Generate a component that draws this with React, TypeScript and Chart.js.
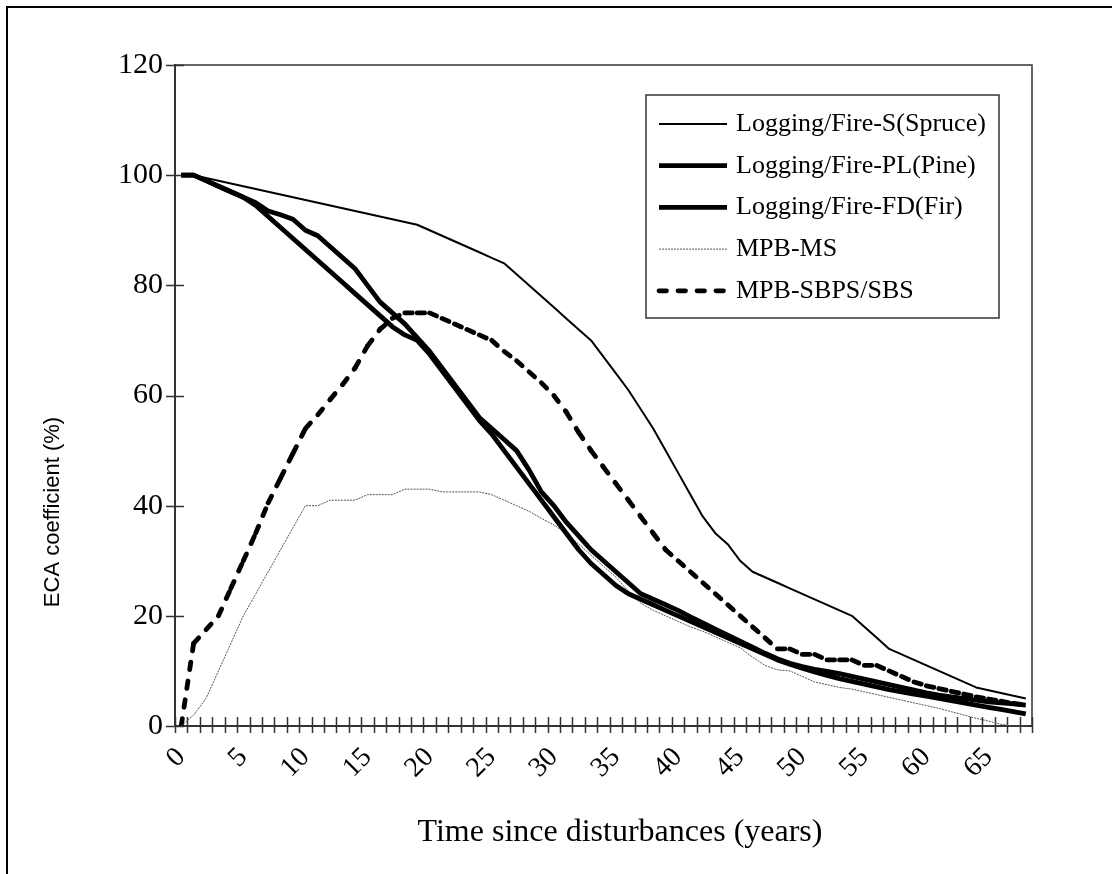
import React, { useEffect, useRef } from 'react';
import { Chart, registerables } from 'chart.js';

Chart.register(...registerables);

// ---- data ----
const years = [
  0, 1, 2, 3, 4, 5, 6, 7, 8, 9, 10, 11, 12, 13, 14, 15, 16, 17, 18, 19,
  20, 21, 22, 23, 24, 25, 26, 27, 28, 29, 30, 31, 32, 33, 34, 35, 36, 37, 38, 39,
  40, 41, 42, 43, 44, 45, 46, 47, 48, 49, 50, 51, 52, 53, 54, 55, 56, 57, 58, 59,
  60, 61, 62, 63, 64, 65, 66, 67, 68,
];
const xTickLabels = ['0', '5', '10', '15', '20', '25', '30', '35', '40', '45', '50', '55', '60', '65'];
const yMin = 0;
const yMax = 120;
const yStep = 20;

const spruce = [
  100, 100, 99.5, 99, 98.5, 98, 97.5, 97, 96.5, 96, 95.5, 95, 94.5, 94, 93.5, 93, 92.5, 92, 91.5, 91,
  90, 89, 88, 87, 86, 85, 84, 82, 80, 78, 76, 74, 72, 70, 67, 64, 61, 57.5, 54, 50,
  46, 42, 38, 35, 33, 30, 28, 27, 26, 25, 24, 23, 22, 21, 20, 18, 16, 14, 13, 12,
  11, 10, 9, 8, 7, 6.5, 6, 5.5, 5,
];
const pine = [
  100, 100, 99, 98, 97, 96, 94.5, 92.5, 90.5, 88.5, 86.5, 84.5, 82.5, 80.5, 78.5, 76.5, 74.5, 72.5, 71, 70,
  67.5, 64.5, 61.5, 58.5, 55.5, 53, 50, 47, 44, 41, 38, 35, 32, 29.5, 27.5, 25.5, 24, 23, 22, 21,
  20, 19, 18, 17, 16, 15, 14, 13, 12, 11.2, 10.5, 9.8, 9.2, 8.6, 8.1, 7.6, 7.1, 6.6, 6.2, 5.8,
  5.4, 5, 4.6, 4.2, 3.8, 3.4, 3, 2.6, 2.2,
];
const fir = [
  100, 100, 99, 98, 97, 96, 95, 93.5, 92.8, 92, 90, 89, 87, 85, 83, 80, 77, 75, 73, 70.5,
  68, 65, 62, 59, 56, 54, 52, 50, 46.5, 42.5, 40, 37, 34.5, 32, 30, 28, 26, 24, 23, 22,
  21, 19.8, 18.7, 17.6, 16.5, 15.4, 14.3, 13.2, 12.2, 11.4, 10.8, 10.3, 9.9, 9.5, 9, 8.5, 8, 7.5, 7, 6.5,
  6, 5.6, 5.3, 5, 4.7, 4.4, 4.2, 4, 3.8,
];
const mpbMS = [
  0, 2, 5, 10, 15, 20, 24, 28, 32, 36, 40, 40, 41, 41, 41, 42, 42, 42, 43, 43,
  43, 42.5, 42.5, 42.5, 42.5, 42, 41, 40, 39, 37.7, 36.5, 35, 33, 31, 29, 27, 24.5, 22.3, 21, 20,
  19, 18, 17.2, 16.2, 15.2, 14.2, 12.5, 11, 10.2, 10, 9, 8, 7.5, 7, 6.7, 6.2, 5.7, 5.2, 4.7, 4.2,
  3.7, 3.2, 2.6, 2, 1.4, 0.9, 0.3, 0, 0,
];
const mpbSBPS = [
  0, 15, 17.5, 20, 25, 30, 35, 40.5, 45, 49.5, 54, 56.5, 59.3, 62, 65, 69, 72, 74, 75, 75,
  75, 74, 73, 72, 71, 70, 68, 66.3, 64.3, 62.3, 60, 57, 53.3, 50, 47, 44, 41, 38, 35, 32,
  30, 28, 26, 24, 22, 20, 18, 16, 14, 14, 13, 13, 12, 12, 12, 11, 11, 10, 9, 8,
  7.3, 6.8, 6.3, 5.8, 5.3, 4.9, 4.5, 4.1, 3.8,
];

const seriesNames = [
  'Logging/Fire-S(Spruce)',
  'Logging/Fire-PL(Pine)',
  'Logging/Fire-FD(Fir)',
  'MPB-MS',
  'MPB-SBPS/SBS',
];
const xTitle = 'Time since disturbances (years)';
const yTitle = 'ECA coefficient (%)';

const SERIF = "'Liberation Serif', 'Times New Roman', serif";
const SANS = "'Liberation Sans', Arial, sans-serif";
const AXIS_COLOR = '#333';

const frameAndTicksPlugin = {
  id: 'frameAndTicks',
  beforeDatasetsDraw(chart: any) {
    const { ctx, chartArea: a, scales } = chart;
    const x = scales.x;
    const y = scales.y;
    ctx.save();
    ctx.strokeStyle = AXIS_COLOR;
    ctx.lineWidth = 1.5;
    ctx.beginPath();
    ctx.moveTo(a.left, a.top);
    ctx.lineTo(a.right, a.top);
    ctx.lineTo(a.right, a.bottom);
    ctx.stroke();
    ctx.beginPath();
    const n = x.getLabels().length;
    const w = (x.right - x.left) / n;
    for (let i = 0; i <= n; i++) {
      const px = Math.round(x.left + i * w) + 0.5;
      ctx.moveTo(px, a.bottom - 9);
      ctx.lineTo(px, a.bottom + 7);
    }
    y.ticks.forEach((t: any) => {
      const py = Math.round(y.getPixelForValue(t.value)) + 0.5;
      ctx.moveTo(a.left - 9, py);
      ctx.lineTo(a.left + 9, py);
    });
    ctx.stroke();
    ctx.restore();
  },
};

const legendAndTitlesPlugin = {
  id: 'legendAndTitles',
  afterDraw(chart: any) {
    const { ctx } = chart;
    ctx.save();
    // legend box
    const bx = 646, by = 95, bw = 353, bh = 223;
    ctx.fillStyle = '#fff';
    ctx.fillRect(bx, by, bw, bh);
    ctx.strokeStyle = AXIS_COLOR;
    ctx.lineWidth = 1.5;
    ctx.strokeRect(bx, by, bw, bh);
    chart.data.datasets.forEach((ds: any, i: number) => {
      const ly = by + 29 + i * 41.7;
      ctx.beginPath();
      ctx.setLineDash(ds.borderDash || []);
      ctx.lineDashOffset = 0;
      ctx.lineWidth = ds.borderWidth;
      ctx.strokeStyle = ds.borderColor;
      ctx.lineCap = ds.borderCapStyle || 'butt';
      ctx.moveTo(659, ly);
      ctx.lineTo(727, ly);
      ctx.stroke();
      ctx.setLineDash([]);
      ctx.fillStyle = '#000';
      ctx.font = `26px ${SERIF}`;
      ctx.textAlign = 'left';
      ctx.textBaseline = 'middle';
      ctx.fillText(ds.label, 736, ly);
    });
    // axis titles
    ctx.fillStyle = '#000';
    ctx.font = `32px ${SERIF}`;
    ctx.textAlign = 'center';
    ctx.textBaseline = 'middle';
    ctx.fillText(xTitle, 620, 833);
    ctx.save();
    ctx.translate(53, 512);
    ctx.rotate(-Math.PI / 2);
    ctx.font = `22px ${SANS}`;
    ctx.fillText(yTitle, 0, 0);
    ctx.restore();
    ctx.restore();
  },
};

export default function App() {
  const canvasRef = useRef<HTMLCanvasElement | null>(null);

  useEffect(() => {
    const canvas = canvasRef.current;
    if (!canvas) return;
    const base = { borderColor: '#000', pointRadius: 0, tension: 0, fill: false, borderJoinStyle: 'round' };
    const chart = new Chart(canvas, {
      type: 'line',
      data: {
        labels: years.map(String),
        datasets: [
          { ...base, label: seriesNames[0], data: spruce, borderWidth: 2 },
          { ...base, label: seriesNames[1], data: pine, borderWidth: 4.8 },
          { ...base, label: seriesNames[2], data: fir, borderWidth: 4.8 },
          { ...base, label: seriesNames[3], data: mpbMS, borderWidth: 1, borderColor: '#555', borderDash: [2, 1] },
          {
            ...base,
            label: seriesNames[4],
            data: mpbSBPS,
            borderWidth: 4.8,
            borderDash: [7.5, 11.5],
            borderCapStyle: 'round',
            // the dash pattern restarts on every segment, as in the source figure
            segment: { borderDashOffset: (c: any) => (c.p0DataIndex % 2 ? 0.01 : 0) },
          },
        ] as any,
      },
      options: {
        animation: false,
        responsive: false,
        maintainAspectRatio: false,
        layout: { padding: { top: 65, right: 80, left: 0, bottom: 0 } },
        plugins: { legend: { display: false }, tooltip: { enabled: false } },
        scales: {
          x: {
            type: 'category',
            offset: true,
            grid: { display: true, drawOnChartArea: false, drawTicks: false, offset: true },
            border: { display: true, color: AXIS_COLOR, width: 2 },
            ticks: {
              autoSkip: false,
              minRotation: 45,
              maxRotation: 45,
              padding: 15,
              color: '#000',
              font: { family: SERIF, size: 28 },
              callback: function (this: any, value: any) {
                const lbl = this.getLabelForValue(value);
                return xTickLabels.includes(lbl) ? lbl : '';
              },
            },
            afterFit: (s: any) => { s.height = 148; },
          },
          y: {
            min: yMin,
            max: yMax,
            grid: { display: true, drawOnChartArea: false, drawTicks: false },
            border: { display: true, color: AXIS_COLOR, width: 2 },
            ticks: {
              stepSize: yStep,
              padding: 12,
              color: '#000',
              font: { family: SERIF, size: 30 },
            },
            afterFit: (s: any) => { s.width = 175; },
          },
        },
      } as any,
      plugins: [frameAndTicksPlugin, legendAndTitlesPlugin],
    });
    return () => chart.destroy();
  }, []);

  return (
    <div style={{ position: 'absolute', left: 0, top: 0, width: 1112, height: 874, overflow: 'hidden', background: '#fff' }}>
      <canvas ref={canvasRef} width={1112} height={874} style={{ position: 'absolute', left: 0, top: 0, width: 1112, height: 874 }} />
      <div style={{ position: 'absolute', left: 6, top: 6, width: 1300, height: 1100, border: '2px solid #000', pointerEvents: 'none' }} />
    </div>
  );
}
